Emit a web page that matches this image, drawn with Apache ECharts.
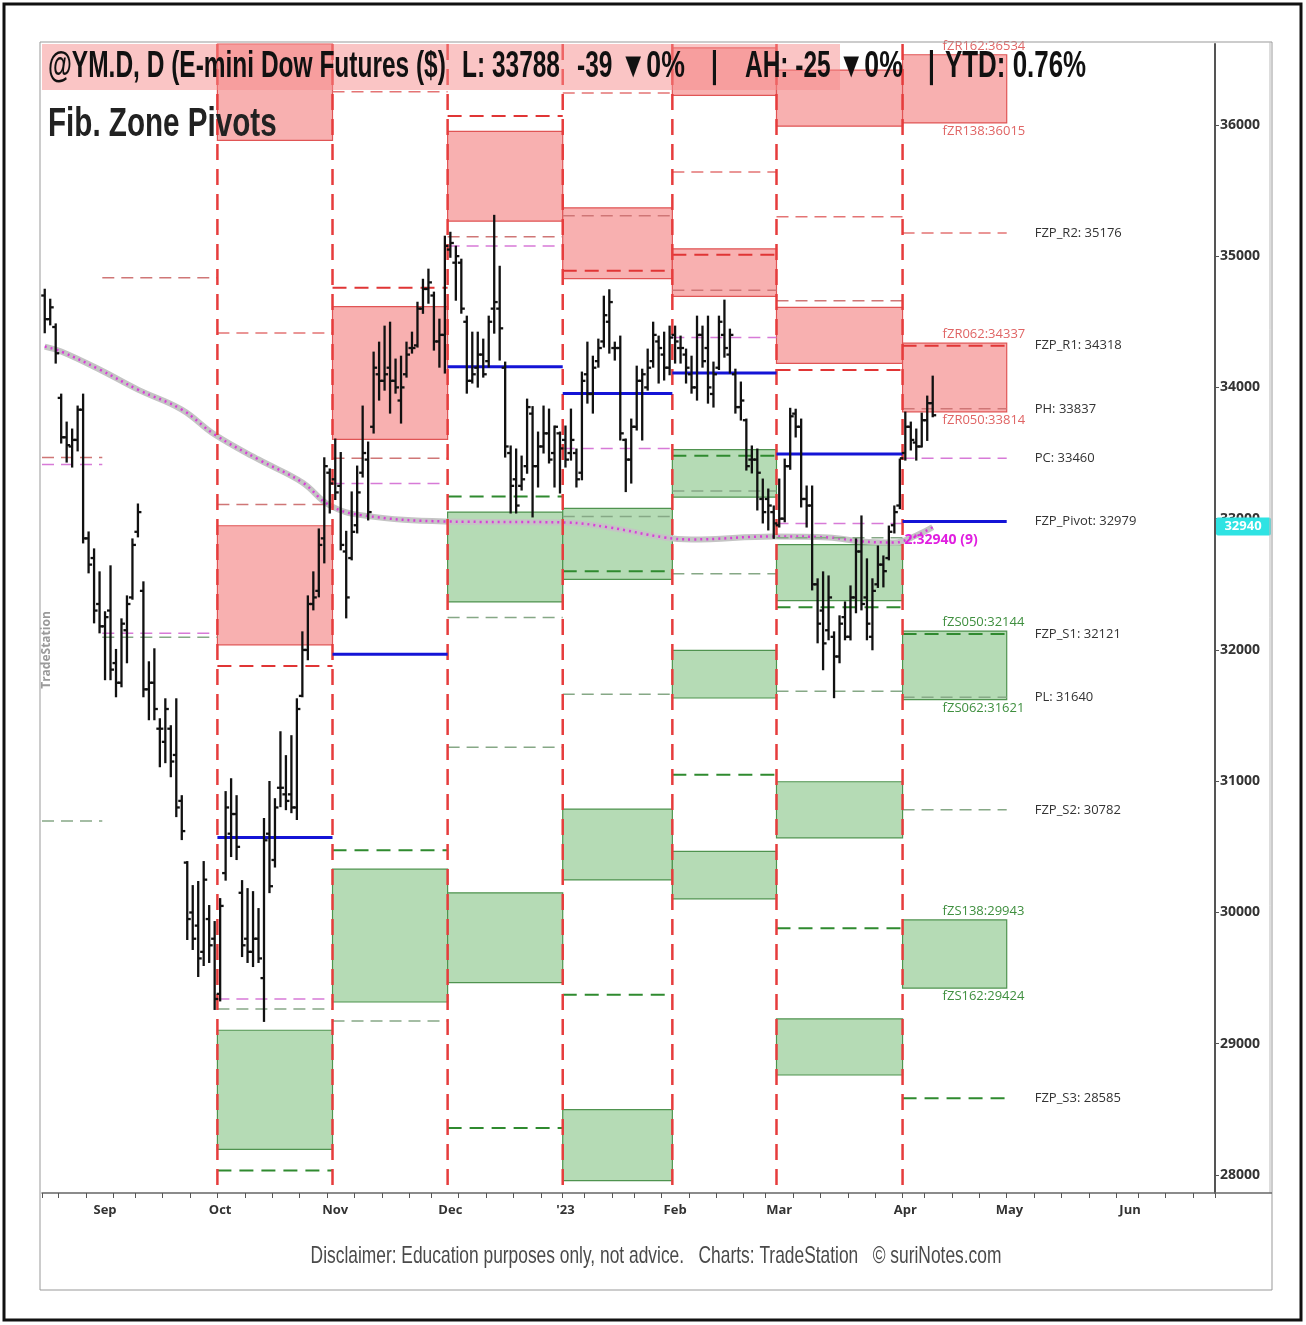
<!DOCTYPE html>
<html>
<head>
<meta charset="utf-8">
<title>Fib. Zone Pivots</title>
<script src="https://cdn.jsdelivr.net/npm/echarts@6/dist/echarts.min.js"></script>
<style>
  html, body { margin: 0; padding: 0; background: #fff; }
  #chart { width: 1306px; height: 1325px; }
</style>
</head>
<body>
<div id="chart"></div>
<script>
// trading days (NYSE calendar) shown on the axis
const firstDay = '2022-08-17'
const lastDay = '2023-06-23'
const holidays = ['2022-09-05', '2022-11-24', '2022-12-26', '2023-01-02', '2023-01-16',
  '2023-02-20', '2023-04-07', '2023-05-29', '2023-06-19']
const monthNames = ['Jan', 'Feb', 'Mar', 'Apr', 'May', 'Jun', 'Jul', 'Aug', 'Sep', 'Oct', 'Nov', 'Dec']

// daily bars [open, high, low, close], one per trading day from firstDay
const bars = [
  // Aug 2022
  [34700, 34744, 34420, 34520], [34520, 34668, 34480, 34610], [34460, 34480, 34189, 34260],
  [33920, 33945, 33580, 33620], [33620, 33732, 33435, 33560], [33550, 33679, 33397, 33600],
  [33600, 33854, 33520, 33830], [33830, 33945, 32819, 32850], [32850, 32895, 32591, 32650],
  [32700, 32766, 32210, 32300], [32350, 32591, 32134, 32180],
  // Sep
  [32180, 32287, 31777, 32250], [32300, 32637, 31777, 31850], [31900, 32000, 31647, 31750],
  [31750, 32233, 31723, 32200], [32150, 32408, 31906, 32350], [32400, 32842, 32390, 32800],
  [32900, 33108, 32865, 33050], [32450, 32515, 31647, 31700], [31700, 31906, 31472, 31750],
  [31750, 32005, 31472, 31550], [31400, 31472, 31114, 31400], [31300, 31624, 31145, 31550],
  [31400, 31419, 31038, 31150], [31200, 31624, 30734, 30800], [30850, 30886, 30559, 30620],
  [30380, 30384, 29798, 29950], [30000, 30201, 29722, 29800], [29900, 30232, 29516, 29650],
  [29700, 30384, 29600, 30250], [29950, 30049, 29623, 29750], [29800, 29927, 29265, 29341],
  // Oct
  [29380, 30102, 29330, 30050], [30300, 30917, 30250, 30800], [30600, 31015, 30430, 30750],
  [30750, 30886, 30407, 30500], [30150, 30239, 29668, 29750], [29800, 30178, 29623, 29700],
  [29700, 30155, 29592, 29800], [29800, 30026, 29623, 29650], [29500, 30712, 29174, 30550],
  [30600, 30994, 30155, 30200], [30400, 30863, 30350, 30800], [30950, 31373, 30810, 30950],
  [30900, 31191, 30787, 30850], [30900, 31343, 30764, 30800], [30800, 31624, 30712, 31550],
  [31650, 32134, 31647, 32000], [32000, 32408, 31929, 32350], [32350, 32591, 32309, 32400],
  [32450, 32918, 32408, 32800], [32850, 33460, 32667, 33400], [33350, 33375, 33047, 33268],
  // Nov
  [33300, 33603, 33150, 33200], [33250, 33500, 32766, 32800], [32750, 32900, 32248, 32400],
  [32700, 33200, 32690, 32900], [32950, 33397, 32895, 33200], [33350, 33854, 33321, 33500],
  [33450, 33580, 32994, 33050], [33700, 34265, 33656, 34150], [34100, 34341, 33907, 34050],
  [34050, 34463, 33983, 34100], [34150, 34493, 33808, 34050], [34050, 34212, 33960, 34000],
  [33900, 34234, 33732, 34000], [34100, 34341, 34082, 34250], [34300, 34417, 34265, 34300],
  [34320, 34645, 34311, 34600], [34600, 34820, 34568, 34750], [34750, 34897, 34645, 34800],
  [34700, 34722, 34288, 34350], [34350, 34516, 34158, 34400], [34400, 35148, 34113, 35078],
  // Dec
  [35050, 35178, 34995, 35100], [34950, 35072, 34668, 35000], [34950, 34973, 34569, 34600],
  [34500, 34539, 33960, 34050], [34050, 34417, 34037, 34100], [34150, 34417, 34006, 34250],
  [34250, 34364, 34082, 34100], [34200, 34539, 34158, 34500], [34600, 35307, 34417, 34650],
  [34600, 34919, 34212, 34450], [34150, 34189, 33473, 33550], [33500, 33550, 33047, 33250],
  [33300, 33527, 33047, 33100], [33250, 33473, 33222, 33300], [33400, 33907, 33350, 33850],
  [33800, 33850, 33017, 33400], [33400, 33656, 33245, 33550], [33550, 33854, 33504, 33650],
  [33650, 33831, 33428, 33450], [33500, 33702, 33245, 33700], [33650, 33656, 33199, 33535],
  // Jan 2023
  [33600, 33702, 33397, 33450], [33500, 33831, 33450, 33600], [33500, 33527, 33245, 33300],
  [33350, 34113, 33300, 34050], [34100, 34341, 33884, 33950], [33950, 34234, 33808, 34150],
  [34200, 34364, 34158, 34300], [34350, 34691, 34311, 34550], [34500, 34740, 34265, 34650],
  [34300, 34341, 34212, 34300], [34300, 34387, 33603, 33650], [33600, 33603, 33210, 33450],
  [33450, 33755, 33275, 33700], [33700, 34158, 33679, 34050], [34050, 34135, 33603, 34100],
  [34000, 34288, 33983, 34150], [34200, 34493, 34158, 34400], [34350, 34387, 34037, 34300],
  [34250, 34417, 34060, 34150], [34150, 34463, 34100, 34380],
  // Feb
  [34400, 34463, 34189, 34350], [34300, 34387, 34189, 34300], [34250, 34288, 34037, 34150],
  [34100, 34234, 33960, 34000], [34000, 34539, 33907, 34400], [34400, 34463, 34158, 34200],
  [34300, 34539, 33884, 34000], [33950, 34189, 33854, 34100], [34150, 34539, 34140, 34500],
  [34400, 34661, 34234, 34300], [34250, 34440, 34113, 34400], [34100, 34135, 33808, 33850],
  [33850, 34037, 33755, 33900], [33750, 33755, 33374, 33400], [33450, 33550, 33352, 33450],
  [33450, 33527, 33070, 33350], [33150, 33298, 32971, 33050], [33150, 33222, 32918, 33100],
  [33050, 33093, 32854, 32964],
  // Mar
  [32950, 33298, 32940, 33000], [33000, 33450, 32980, 33400], [33400, 33837, 33380, 33780],
  [33800, 33830, 33626, 33700], [33700, 33755, 33093, 33150], [33150, 33245, 32940, 33100],
  [33100, 33245, 32461, 32500], [32500, 32538, 32058, 32200], [32300, 32591, 31853, 32050],
  [32150, 32560, 32081, 32400], [32100, 32134, 31640, 31950], [31950, 32256, 31906, 32200],
  [32250, 32362, 32081, 32100], [32100, 32484, 32080, 32400], [32400, 32842, 32287, 32750],
  [32750, 33017, 32309, 32350], [32400, 32690, 32081, 32200], [32100, 32538, 32005, 32450],
  [32500, 32788, 32480, 32650], [32650, 32712, 32484, 32600], [32700, 32940, 32690, 32900],
  [32950, 33093, 32895, 33050], [33100, 33450, 33080, 33460],
  // Apr
  [33500, 33808, 33450, 33700], [33700, 33732, 33527, 33600], [33580, 33679, 33450, 33550],
  [33550, 33800, 33550, 33750], [33750, 33930, 33600, 33880], [33880, 34082, 33780, 33788]
]

// moving average, read at a few bars (bar number, value)
const maBar = [0, 3, 10, 17, 25, 31, 39, 47, 52, 58, 73, 95, 103, 113, 118, 133, 143, 149, 155, 159, 162]
const maValue = [34311, 34273, 34136, 33983, 33831, 33641, 33451, 33276, 33101, 33025, 32979,
  32971, 32933, 32857, 32842, 32865, 32857, 32827, 32819, 32872, 32935]
const maLast = 32940

// monthly pivot periods
const zoneStart = ['2022-08-17', '2022-09-01', '2022-10-03', '2022-11-01', '2022-12-01',
  '2023-01-03', '2023-02-01', '2023-03-01', '2023-04-03']
const zoneEnd = ['2022-09-01', '2022-10-03', '2022-11-01', '2022-12-01', '2023-01-03',
  '2023-02-01', '2023-03-01', '2023-04-03', '2023-05-01']
const separators = ['2022-10-03', '2022-11-01', '2022-12-01', '2023-01-03', '2023-02-01',
  '2023-03-01', '2023-04-03']

// pivot levels per period (null = not drawn)
const pivot = [null, null, 30571, 31967, 34158, 33953, 34110, 33493, 32979]
const lvR2 = [null, null, 34414, 36253, null, 36243, 35640, 35300, 35176]
const lvR1 = [null, null, 31877, 34760, 36068, 34889, 35010, 34132, 34318]
const lvPH = [33466, 34836, 33108, 33460, 35148, 35307, 34740, 34661, 33837]
const lvPC = [33413, 32127, 29341, 33268, 35078, 33535, 34380, 32964, 33460]
const lvPL = [30696, 32096, 29265, 29174, 32248, 33017, 33210, 32854, 31640]
const lvS1 = [null, null, 28034, 30474, 33168, 32599, 33480, 32325, 32121]
const lvS2 = [null, null, null, null, 31258, 31663, 32580, 31686, 30782]
const lvS3 = [null, null, null, null, 28358, 29373, 31050, 29879, 28585]

// fib zones per period [low, high]
const zoneR1 = [null, null, [32039, 32946], [33604, 34616], [35266, 35950], [34828, 35368],
  [34694, 35056], [34183, 34610], [33814, 34337]]
const zoneR2 = [null, null, [35882, 36789], null, null, null, [36224, 36586], [35990, 36417],
  [36015, 36534]]
const zoneS1 = [null, null, [28196, 29103], [29318, 30330], [32366, 33050], [32538, 33078],
  [33164, 33526], [32376, 32803], [31621, 32144]]
const zoneS2 = [null, null, null, null, [29466, 30150], [30248, 30788], [31634, 31996],
  [30569, 30996], [29424, 29943]]
const zoneS3 = [null, null, null, null, null, [27958, 28498], [30104, 30466], [28762, 29189], null]

// current month labels
const aprLevelNames = ['FZP_R2', 'FZP_R1', 'PH', 'PC', 'FZP_Pivot', 'FZP_S1', 'PL', 'FZP_S2', 'FZP_S3']
const aprLevelValues = [35176, 34318, 33837, 33460, 32979, 32121, 31640, 30782, 28585]
const aprZoneNames = ['fZR162', 'fZR138', 'fZR062', 'fZR050', 'fZS050', 'fZS062', 'fZS138', 'fZS162']
const aprZoneValues = [36534, 36015, 34337, 33814, 32144, 31621, 29943, 29424]

const yMin = 27863
const yMax = 36616

// build category list
const categories = []
const pad = n => (n < 10 ? '0' : '') + n
for (let d = new Date(firstDay + 'T00:00:00Z'); d <= new Date(lastDay + 'T00:00:00Z'); d.setUTCDate(d.getUTCDate() + 1)) {
  const wd = d.getUTCDay()
  const s = d.getUTCFullYear() + '-' + pad(d.getUTCMonth() + 1) + '-' + pad(d.getUTCDate())
  if (wd === 0 || wd === 6 || holidays.includes(s)) continue
  categories.push(s)
}
const catIndex = {}
categories.forEach((c, i) => { catIndex[c] = i })
const isMonthStart = i => i > 0 && categories[i].slice(5, 7) !== categories[i - 1].slice(5, 7)
const isWeekStart = i => i === 0 || new Date(categories[i]).getUTCDay() < new Date(categories[i - 1]).getUTCDay()

const font = '"Open Sans", "Liberation Sans", sans-serif'
const arial = '"Liberation Sans", Arial, sans-serif'

function gridRect(params) {
  const cs = params.coordSys
  return { x: cs.x, y: cs.y, width: cs.width, height: cs.height }
}

function zoneSeries(zones, fill, stroke) {
  const data = []
  zones.forEach((z, m) => {
    if (z) data.push([catIndex[zoneStart[m]], catIndex[zoneEnd[m]], z[0], z[1]])
  })
  return {
    type: 'custom', z: 1, silent: true,
    encode: { x: [0, 1], y: [2, 3] },
    data,
    renderItem(params, api) {
      const bw = api.size([1, 0])[0]
      const x0 = api.coord([api.value(0), 0])[0] - bw / 2
      const x1 = api.coord([api.value(1), 0])[0] - bw / 2
      const yTop = api.coord([0, api.value(3)])[1]
      const yBot = api.coord([0, api.value(2)])[1]
      const r = echarts.graphic.clipRectByRect(
        { x: x0, y: yTop, width: x1 - x0, height: yBot - yTop }, gridRect(params))
      if (!r) return
      return { type: 'rect', shape: r, style: { fill, stroke, lineWidth: 1.2 } }
    }
  }
}

function levelSeries(values, color, width, dash, z) {
  const data = []
  values.forEach((v, m) => {
    if (v != null && v > yMin && v < yMax) data.push([catIndex[zoneStart[m]], catIndex[zoneEnd[m]], v])
  })
  return {
    type: 'custom', z: z || 3, silent: true,
    encode: { x: [0, 1], y: 2 },
    data,
    renderItem(params, api) {
      const bw = api.size([1, 0])[0]
      const p0 = api.coord([api.value(0), api.value(2)])
      const p1 = api.coord([api.value(1), api.value(2)])
      return {
        type: 'line',
        shape: { x1: p0[0] - bw / 2, y1: p0[1], x2: p1[0] - bw / 2, y2: p1[1] },
        style: { stroke: color, lineWidth: width, lineDash: dash }
      }
    }
  }
}

// condensed bold header text (scaled horizontally)
function headText(x, y, text, size, sx, weight, color, align) {
  return {
    type: 'text', z: 21, silent: true, x, y, scaleX: sx,
    style: {
      text, font: (weight || 'bold') + ' ' + size + 'px ' + arial, fill: color || '#111',
      textAlign: align || 'left', align: align || 'left',
      textVerticalAlign: 'middle', verticalAlign: 'middle'
    }
  }
}

const chart = echarts.init(document.getElementById('chart'))

const option = {
  animation: false,
  backgroundColor: '#fff',
  grid: { left: 42, right: 91, top: 44, bottom: 132, containLabel: false },
  xAxis: {
    type: 'category',
    data: categories,
    boundaryGap: true,
    axisLine: { lineStyle: { color: '#666', width: 1.5 } },
    axisTick: { show: true, interval: isWeekStart, length: 5, lineStyle: { color: '#555', width: 1 } },
    axisLabel: {
      interval: isMonthStart,
      margin: 11,
      color: '#333',
      fontWeight: 'bold',
      fontSize: 13,
      fontFamily: font,
      formatter: v => {
        const m = +v.slice(5, 7)
        return m === 1 ? "'" + v.slice(2, 4) : monthNames[m - 1]
      }
    },
    splitLine: { show: false }
  },
  yAxis: {
    type: 'value',
    position: 'right',
    min: yMin,
    max: yMax,
    splitNumber: 8,
    axisLine: { show: true, lineStyle: { color: '#555', width: 2 } },
    axisTick: { show: true, length: 4, lineStyle: { color: '#555' } },
    axisLabel: {
      showMinLabel: false,
      showMaxLabel: false,
      margin: 5,
      color: '#333',
      fontWeight: 'bold',
      fontSize: 14,
      fontFamily: font,
      formatter: v => String(v)
    },
    splitLine: { show: false }
  },
  series: [
    zoneSeries(zoneR1, '#f8b0b0', '#e05555'),
    zoneSeries(zoneR2, '#f8b0b0', '#e05555'),
    zoneSeries(zoneS1, '#b5dbb5', '#4f934f'),
    zoneSeries(zoneS2, '#b5dbb5', '#4f934f'),
    zoneSeries(zoneS3, '#b5dbb5', '#4f934f'),
    // moving average
    {
      type: 'line', z: 2, silent: true, showSymbol: false, smooth: 0.4,
      data: maBar.map((b, i) => [b, maValue[i]]),
      lineStyle: { color: '#c4c4c4', width: 6 }
    },
    {
      type: 'line', z: 2, silent: true, showSymbol: false, smooth: 0.4,
      data: maBar.map((b, i) => [b, maValue[i]]),
      lineStyle: { color: '#d83fd8', width: 2.5, type: [2, 4] }
    },
    levelSeries(lvR2, '#e47474', 1.5, [12, 7]),
    levelSeries(lvR1, '#e03535', 2, [14, 8]),
    levelSeries(lvPH, '#cf7676', 1.5, [12, 7]),
    levelSeries(lvPC, '#d77ad7', 1.5, [12, 7]),
    levelSeries(lvPL, '#86a886', 1.5, [12, 7]),
    levelSeries(lvS1, '#2f8a2f', 2, [14, 8]),
    levelSeries(lvS2, '#86a886', 1.5, [12, 7]),
    levelSeries(lvS3, '#2f8a2f', 2, [14, 8]),
    // month separators
    {
      type: 'custom', z: 3, silent: true,
      encode: { x: 0 },
      data: separators.map(s => [catIndex[s]]),
      renderItem(params, api) {
        const bw = api.size([1, 0])[0]
        const x = api.coord([api.value(0), yMin])[0] - bw / 2
        const cs = params.coordSys
        return {
          type: 'line',
          shape: { x1: x, y1: cs.y, x2: x, y2: cs.y + cs.height },
          style: { stroke: '#e63c3c', lineWidth: 2.5, lineDash: [16, 9] }
        }
      }
    },
    levelSeries(pivot, '#1414d6', 3, null, 4),
    // daily OHLC bars
    {
      type: 'custom', z: 5, silent: true,
      encode: { x: 0, y: [1, 2, 3, 4] },
      data: bars.map((b, i) => [i, b[0], b[1], b[2], b[3]]),
      renderItem(params, api) {
        const i = api.value(0)
        const o = api.coord([i, api.value(1)])
        const h = api.coord([i, api.value(2)])
        const l = api.coord([i, api.value(3)])
        const c = api.coord([i, api.value(4)])
        const st = { stroke: '#111', lineWidth: 2.3 }
        return {
          type: 'group',
          children: [
            { type: 'line', shape: { x1: h[0], y1: h[1] - 1, x2: l[0], y2: l[1] + 1 }, style: st },
            { type: 'line', shape: { x1: o[0] - 3.5, y1: o[1], x2: o[0], y2: o[1] }, style: st },
            { type: 'line', shape: { x1: c[0], y1: c[1], x2: c[0] + 3.5, y2: c[1] }, style: st }
          ]
        }
      }
    },
    // current month level labels
    {
      type: 'custom', z: 8, silent: true,
      encode: { y: 1 },
      data: aprLevelValues.map((v, i) => [catIndex[zoneEnd[8]], v, i]),
      renderItem(params, api) {
        const bw = api.size([1, 0])[0]
        const p = api.coord([api.value(0), api.value(1)])
        const i = api.value(2)
        return {
          type: 'text',
          x: p[0] - bw / 2 + 28, y: p[1],
          style: {
            text: aprLevelNames[i] + ': ' + aprLevelValues[i],
            fill: '#333', font: '13px ' + font,
            align: 'left', verticalAlign: 'middle', textAlign: 'left', textVerticalAlign: 'middle'
          }
        }
      }
    },
    // current month zone labels
    {
      type: 'custom', z: 8, silent: true,
      encode: { y: 1 },
      data: aprZoneValues.map((v, i) => [catIndex[zoneStart[8]], v, i]),
      renderItem(params, api) {
        const bw = api.size([1, 0])[0]
        const p = api.coord([api.value(0), api.value(1)])
        const i = api.value(2)
        const above = i % 2 === 0
        const red = aprZoneNames[i].charAt(2) === 'R'
        return {
          type: 'text',
          x: p[0] - bw / 2 + 40, y: above ? p[1] - 2 : p[1] + 2,
          style: {
            text: aprZoneNames[i] + ':' + aprZoneValues[i],
            fill: red ? '#e06565' : '#3f8f3f', font: '13px ' + font,
            align: 'left', verticalAlign: above ? 'bottom' : 'top',
            textAlign: 'left', textVerticalAlign: above ? 'bottom' : 'top'
          }
        }
      }
    },
    // MA value labels
    {
      type: 'custom', z: 9, silent: true,
      encode: { y: 1 },
      data: [[catIndex[zoneStart[8]], maLast]],
      renderItem(params, api) {
        const bw = api.size([1, 0])[0]
        const p = api.coord([api.value(0), api.value(1)])
        const cs = params.coordSys
        const xr = cs.x + cs.width
        return {
          type: 'group',
          children: [
            {
              type: 'text', x: p[0] - bw / 2 + 2, y: p[1] + 13,
              style: {
                text: '2:' + maLast + ' (9)', fill: '#e01ee0', font: 'bold 14px ' + font,
                align: 'left', verticalAlign: 'middle', textAlign: 'left', textVerticalAlign: 'middle'
              }
            },
            { type: 'rect', shape: { x: xr + 1, y: p[1] - 9, width: 55, height: 18, r: 2 }, style: { fill: '#2fe3e3' } },
            {
              type: 'text', x: xr + 28, y: p[1],
              style: {
                text: String(maLast), fill: '#ffffff', font: 'bold 13px ' + font,
                align: 'center', verticalAlign: 'middle', textAlign: 'center', textVerticalAlign: 'middle'
              }
            }
          ]
        }
      }
    }
  ],
  graphic: [
    { type: 'rect', z: 30, silent: true, shape: { x: 4, y: 4, width: 1297, height: 1316 }, style: { fill: 'none', stroke: '#111', lineWidth: 3 } },
    { type: 'rect', z: 30, silent: true, shape: { x: 40, y: 42, width: 1232, height: 1248 }, style: { fill: 'none', stroke: '#999', lineWidth: 1 } },
    { type: 'line', z: 30, silent: true, shape: { x1: 1270, y1: 42, x2: 1270, y2: 1193 }, style: { stroke: '#bbb', lineWidth: 1 } },
    { type: 'line', z: 30, silent: true, shape: { x1: 1215, y1: 1193, x2: 1272, y2: 1193 }, style: { stroke: '#666', lineWidth: 1.5 } },
    { type: 'rect', z: 20, silent: true, shape: { x: 42, y: 44, width: 798, height: 46 }, style: { fill: 'rgba(246,140,140,0.5)' } },
    headText(48, 67, '@YM.D, D (E-mini Dow Futures ($)', 36, 0.68),
    headText(462, 67, 'L: 33788', 36, 0.68),
    headText(577, 67, '-39', 36, 0.68),
    headText(620, 67, '\u25BC0%', 36, 0.74),
    headText(711, 67, '|', 36, 0.68),
    headText(745, 67, 'AH: -25', 36, 0.68),
    headText(838, 67, '\u25BC0%', 36, 0.74),
    headText(928, 67, '|', 36, 0.68),
    headText(945, 67, 'YTD: 0.76%', 36, 0.72),
    headText(48, 125, 'Fib. Zone Pivots', 40, 0.74, 'bold', '#222'),
    { type: 'text', z: 21, silent: true, x: 47, y: 650, rotation: Math.PI / 2, style: { text: 'TradeStation', font: 'bold 12px ' + font, fill: '#9a9a9a', textAlign: 'center', align: 'center', textVerticalAlign: 'middle', verticalAlign: 'middle' } },
    headText(656, 1256, 'Disclaimer: Education purposes only, not advice.   Charts: TradeStation   \u00A9 suriNotes.com', 24, 0.724, 'normal', '#4a4a4a', 'center')
  ]
}

chart.setOption(option)
</script>
</body>
</html>
